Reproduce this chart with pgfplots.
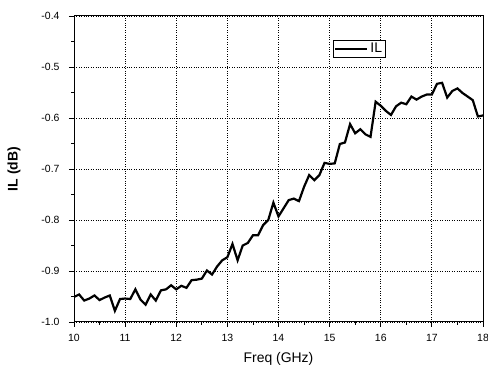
\documentclass[border=0pt]{standalone}
\usepackage{fontspec}
\setmainfont{Liberation Sans}
\usepackage{pgfplots}
\pgfplotsset{compat=1.18}
\begin{document}
\begin{tikzpicture}
\begin{axis}[
  scale only axis,
  width=409bp, height=306bp,
  xmin=10, xmax=18, ymin=-1.0, ymax=-0.4,
  xtick={10,11,...,18},
  ytick={-1.0,-0.9,...,-0.4},
  yticklabel style={/pgf/number format/fixed,/pgf/number format/precision=1,/pgf/number format/fixed zerofill, xshift=-6bp},
  xticklabel style={yshift=-4bp},
  /pgf/number format/assume math mode=true,
  minor x tick num=1, minor y tick num=1,
  tick align=outside,
  xtick pos=left, ytick pos=left,
  major tick length=5bp, minor tick length=3bp,
  tick style={black, line width=0.8pt},
  axis line style={line width=1pt},
  grid=major,
  major grid style={black, dotted, line width=0.8pt},
  ticklabel style={font=\fontsize{10.5}{12}\selectfont},
  xlabel={Freq (GHz)},
  ylabel={\bfseries IL (dB)},
  label style={font=\fontsize{14}{16}\selectfont},
  xlabel style={yshift=-4bp},
  ylabel style={yshift=14bp},
  legend style={at={(0.633,0.922)}, anchor=north west, font=\fontsize{14}{16}\selectfont,
    draw=black, line width=0.7pt, inner sep=1pt, row sep=0pt},
  legend image code/.code={\draw[#1, line width=2.2pt] (0bp,0bp) -- (32bp,0bp);},
]
\addplot[black, line width=2.2pt] coordinates {
(10.0,-0.951) (10.1,-0.946) (10.2,-0.958) (10.3,-0.954) (10.4,-0.948)
(10.5,-0.957) (10.6,-0.952) (10.7,-0.948) (10.8,-0.978) (10.9,-0.955)
(11.0,-0.954) (11.1,-0.955) (11.2,-0.936) (11.3,-0.956) (11.4,-0.966)
(11.5,-0.946) (11.6,-0.958) (11.7,-0.938) (11.8,-0.936) (11.9,-0.928)
(12.0,-0.936) (12.1,-0.929) (12.2,-0.933) (12.3,-0.918) (12.4,-0.917)
(12.5,-0.915) (12.6,-0.899) (12.7,-0.907) (12.8,-0.891) (12.9,-0.879)
(13.0,-0.873) (13.1,-0.847) (13.2,-0.879) (13.3,-0.850) (13.4,-0.845)
(13.5,-0.830) (13.6,-0.830) (13.7,-0.810) (13.8,-0.800) (13.9,-0.766)
(14.0,-0.793) (14.1,-0.777) (14.2,-0.761) (14.3,-0.758) (14.4,-0.763)
(14.5,-0.735) (14.6,-0.712) (14.7,-0.722) (14.8,-0.712) (14.9,-0.688)
(15.0,-0.690) (15.1,-0.689) (15.2,-0.651) (15.3,-0.648) (15.4,-0.612)
(15.5,-0.630) (15.6,-0.622) (15.7,-0.632) (15.8,-0.637) (15.9,-0.568)
(16.0,-0.576) (16.1,-0.586) (16.2,-0.594) (16.3,-0.577) (16.4,-0.570)
(16.5,-0.573) (16.6,-0.558) (16.7,-0.564) (16.8,-0.558) (16.9,-0.554)
(17.0,-0.554) (17.1,-0.533) (17.2,-0.531) (17.3,-0.560) (17.4,-0.547)
(17.5,-0.542) (17.6,-0.551) (17.7,-0.558) (17.8,-0.565) (17.9,-0.597)
(18.0,-0.595)
};
\addlegendentry{IL}
\end{axis}
\pgfresetboundingbox
\path[use as bounding box] ([xshift=-74bp,yshift=-48bp]current axis.south west) rectangle ([xshift=5bp,yshift=16bp]current axis.north east);
\end{tikzpicture}
\end{document}
